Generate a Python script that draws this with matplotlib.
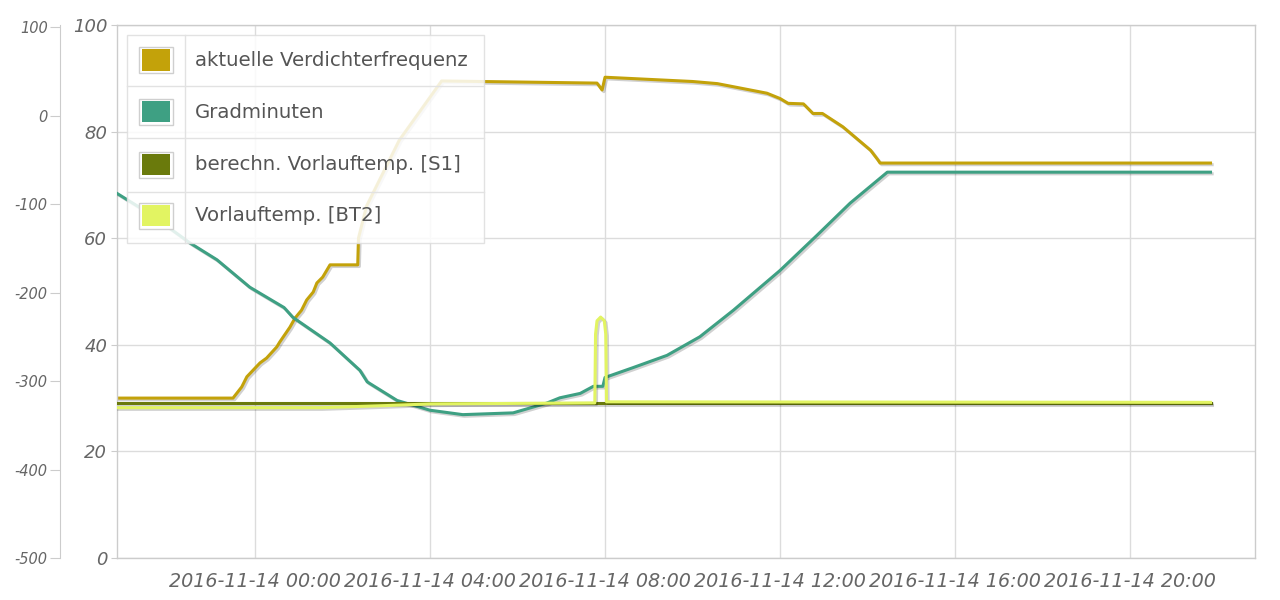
import numpy as np
import pandas as pd
import matplotlib
matplotlib.use("Agg")
import matplotlib.pyplot as plt
import matplotlib.dates as mdates
import matplotlib.patheffects as pe
from matplotlib.patches import Rectangle
from matplotlib.lines import Line2D

plt.rcParams["axes.unicode_minus"] = False

# ---------------- data ----------------
freq_times = ["2016-11-13 20:51", "2016-11-13 23:30", "2016-11-13 23:42", "2016-11-13 23:49",
              "2016-11-14 00:07", "2016-11-14 00:16", "2016-11-14 00:30", "2016-11-14 00:34",
              "2016-11-14 00:48", "2016-11-14 00:55", "2016-11-14 01:04", "2016-11-14 01:11",
              "2016-11-14 01:20", "2016-11-14 01:25", "2016-11-14 01:33", "2016-11-14 01:43",
              "2016-11-14 02:21", "2016-11-14 02:22", "2016-11-14 02:33", "2016-11-14 03:18",
              "2016-11-14 04:16", "2016-11-14 07:49", "2016-11-14 07:56", "2016-11-14 08:00",
              "2016-11-14 09:00", "2016-11-14 10:00", "2016-11-14 10:34", "2016-11-14 11:42",
              "2016-11-14 12:00", "2016-11-14 12:11", "2016-11-14 12:32", "2016-11-14 12:45",
              "2016-11-14 12:58", "2016-11-14 13:26", "2016-11-14 14:04", "2016-11-14 14:14",
              "2016-11-14 14:17", "2016-11-14 21:50"]
freq_values = [30.0, 30.0, 32.1, 34.0, 36.6, 37.5, 39.6, 40.5, 43.3, 45.0, 46.5, 48.4,
               49.9, 51.6, 52.7, 55.0, 55.0, 60.0, 66.0, 78.4, 89.5, 89.1, 87.8, 90.2,
               89.8, 89.4, 89.0, 87.2, 86.2, 85.3, 85.2, 83.4, 83.4, 80.9, 76.5, 74.7,
               74.1, 74.1]

grad_times = ["2016-11-13 20:51", "2016-11-13 21:36", "2016-11-13 22:31", "2016-11-13 23:08",
              "2016-11-13 23:53", "2016-11-14 00:40", "2016-11-14 00:52", "2016-11-14 01:43",
              "2016-11-14 02:24", "2016-11-14 02:34", "2016-11-14 03:15", "2016-11-14 04:00",
              "2016-11-14 04:45", "2016-11-14 05:54", "2016-11-14 06:40", "2016-11-14 06:58",
              "2016-11-14 07:26", "2016-11-14 07:44", "2016-11-14 07:57", "2016-11-14 08:00",
              "2016-11-14 08:38", "2016-11-14 09:25", "2016-11-14 10:10", "2016-11-14 10:56",
              "2016-11-14 12:00", "2016-11-14 12:51", "2016-11-14 13:36", "2016-11-14 14:27",
              "2016-11-14 21:50"]
grad_values = [-88, -111, -144, -163, -194, -217, -228, -257, -288, -301, -322, -333,
               -338, -336, -325, -319, -314, -306, -306, -296, -285, -271, -250, -220,
               -175, -135, -99, -64, -64]

s1_times = ["2016-11-13 20:51", "2016-11-14 21:50"]
s1_values = [29.0, 29.0]

bt2_times = ["2016-11-13 20:51", "2016-11-14 01:30", "2016-11-14 03:00", "2016-11-14 04:00",
             "2016-11-14 07:46", "2016-11-14 07:47", "2016-11-14 07:49", "2016-11-14 07:54",
             "2016-11-14 07:59", "2016-11-14 08:01", "2016-11-14 08:02", "2016-11-14 21:50"]
bt2_values = [28.2, 28.2, 28.6, 28.9, 29.1, 42.0, 44.5, 45.2, 44.5, 42.0, 29.3, 29.2]

series_labels = ["aktuelle Verdichterfrequenz", "Gradminuten",
                 "berechn. Vorlauftemp. [S1]", "Vorlauftemp. [BT2]"]
series_colors = ["#c3a20a", "#3ea083", "#6a7a0c", "#e2f462"]

x_start = "2016-11-13 20:51"
x_end = "2016-11-14 22:51"
left_ticks = [100, 0, -100, -200, -300, -400, -500]
right_ticks = [0, 20, 40, 60, 80, 100]

# ---------------- figure ----------------
W, H = 1280, 600
fig = plt.figure(figsize=(W / 100, H / 100), dpi=100)
fig.patch.set_facecolor("white")

def fx(x):
    return x / W

def fy(y):
    return 1 - y / H

pos = [fx(117), fy(558), (1255 - 117) / W, (558 - 25) / H]
ax = fig.add_axes(pos)
ax2 = ax.twinx()
ax3 = fig.add_axes(pos, sharex=ax, sharey=ax)
ax3.patch.set_visible(False)
ax3.axis("off")

grid_c = "#dcdcdc"
text_c = "#666666"
shadow = [pe.SimpleLineShadow(offset=(1.2, -1.2), shadow_color="black", alpha=0.18),
          pe.Normal()]

def to_dt(lst):
    return pd.to_datetime(lst)

ax.plot(to_dt(freq_times), freq_values, color=series_colors[0], lw=2.2,
        path_effects=shadow, solid_joinstyle="round")
ax2.plot(to_dt(grad_times), grad_values, color=series_colors[1], lw=2.2,
         path_effects=shadow, solid_joinstyle="round")
ax3.plot(to_dt(s1_times), s1_values, color=series_colors[2], lw=2.2,
         path_effects=shadow)
ax3.plot(to_dt(bt2_times), bt2_values, color=series_colors[3], lw=2.2,
         path_effects=shadow, solid_joinstyle="round")

ax.set_xlim(pd.Timestamp(x_start), pd.Timestamp(x_end))
ax.set_ylim(0, 100)
ax2.set_ylim(-500, 102.3)

# main axis styling
ax.xaxis.set_major_locator(mdates.HourLocator(byhour=range(0, 24, 4)))
ax.xaxis.set_major_formatter(mdates.DateFormatter("%Y-%m-%d %H:%M"))
ax.set_yticks(right_ticks)
ax.grid(True, color=grid_c, lw=1)
ax.set_axisbelow(True)
for s in ax.spines.values():
    s.set_color("#cccccc")
    s.set_linewidth(1)
ax.tick_params(axis="x", length=0, pad=10, labelsize=13.8, labelcolor=text_c)
ax.tick_params(axis="y", length=4, color="#cccccc", pad=3, labelsize=13, labelcolor=text_c)
for lab in ax.get_xticklabels() + ax.get_yticklabels():
    lab.set_fontstyle("italic")

# outer axis
ax2.yaxis.set_ticks_position("left")
ax2.yaxis.set_label_position("left")
ax2.spines["left"].set_position(("outward", 41))
ax2.spines["left"].set_color("#cccccc")
for k in ["right", "top", "bottom"]:
    ax2.spines[k].set_visible(False)
ax2.set_yticks(left_ticks)
ax2.tick_params(axis="y", length=7, color="#cccccc", pad=2, labelsize=10.5, labelcolor=text_c)
for lab in ax2.get_yticklabels():
    lab.set_fontstyle("italic")

# ---------------- legend (table style) ----------------
lx0, lx1, ly0, ly1 = 127, 484, 35, 243
fig.patches.append(Rectangle((fx(lx0), fy(ly1)), (lx1 - lx0) / W, (ly1 - ly0) / H,
                             transform=fig.transFigure, facecolor="white", alpha=0.85,
                             edgecolor="#dddddd", lw=1, zorder=10))
sep_c = "#e2e2e2"
for ys in [86, 138, 192]:
    fig.lines.append(Line2D([fx(lx0), fx(lx1)], [fy(ys), fy(ys)], transform=fig.transFigure,
                            color=sep_c, lw=1, zorder=11))
fig.lines.append(Line2D([fx(185), fx(185)], [fy(ly0), fy(ly1)], transform=fig.transFigure,
                        color=sep_c, lw=1, zorder=11))
row_centers = [60, 112, 164.5, 215.5]
for yc, lab, col in zip(row_centers, series_labels, series_colors):
    fig.patches.append(Rectangle((fx(139), fy(yc + 13)), 34 / W, 26 / H,
                                 transform=fig.transFigure, facecolor="white",
                                 edgecolor="#cfcfcf", lw=1, zorder=12))
    fig.patches.append(Rectangle((fx(142), fy(yc + 10.5)), 28 / W, 21 / H,
                                 transform=fig.transFigure, facecolor=col,
                                 edgecolor="none", zorder=13))
    fig.text(fx(195), fy(yc), lab, transform=fig.transFigure, fontsize=14.2,
             color="#555555", va="center", ha="left", zorder=14)

fig.savefig("out.png", dpi=100, facecolor="white")
